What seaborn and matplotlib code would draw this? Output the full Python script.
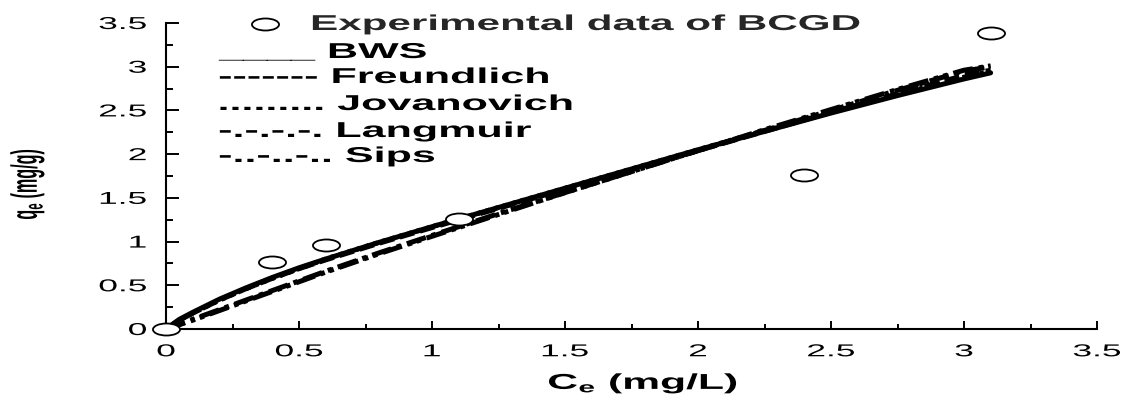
import matplotlib
matplotlib.use("Agg")
import matplotlib.pyplot as plt
import seaborn as sns
import numpy as np
from matplotlib.patheffects import AbstractPathEffect
from matplotlib.transforms import Affine2D
from matplotlib.path import Path
from matplotlib.font_manager import FontProperties

# ---------------- data ----------------
ce_exp = [0.0, 0.4, 0.6, 1.1, 2.4, 3.1]
qe_exp = [0.0, 0.77, 0.96, 1.26, 1.76, 3.39]

ce_fit = [0.0, 0.05, 0.1, 0.2, 0.3, 0.4, 0.5, 0.6, 0.8, 1.0, 1.25, 1.5, 1.75,
          2.0, 2.25, 2.5, 2.75, 3.0, 3.1]
q_bws = [0.0, 0.11, 0.19, 0.34, 0.47, 0.59, 0.70, 0.80, 0.99, 1.17, 1.39, 1.61,
         1.83, 2.05, 2.26, 2.47, 2.67, 2.86, 2.93]
q_freundlich = [0.0, 0.10, 0.18, 0.33, 0.46, 0.58, 0.69, 0.79, 0.98, 1.16, 1.38, 1.60,
                1.82, 2.04, 2.26, 2.48, 2.69, 2.90, 2.96]
q_jovanovich = [0.0, 0.10, 0.18, 0.33, 0.46, 0.58, 0.69, 0.80, 0.99, 1.17, 1.39, 1.61,
                1.83, 2.05, 2.27, 2.48, 2.68, 2.88, 2.95]
q_langmuir = [0.0, 0.05, 0.11, 0.22, 0.33, 0.44, 0.55, 0.66, 0.87, 1.07, 1.32, 1.56,
              1.80, 2.04, 2.27, 2.50, 2.73, 2.95, 3.00]
q_sips = [0.0, 0.05, 0.10, 0.21, 0.32, 0.43, 0.54, 0.65, 0.86, 1.06, 1.31, 1.56,
          1.80, 2.04, 2.28, 2.51, 2.74, 2.96, 3.01]

exp_label = "Experimental data of BCGD"
legend_lines = ["____ BWS", "------- Freundlich", "......... Jovanovich",
                "-.-.-.-. Langmuir", "-..-..-.. Sips"]
xtick_vals = [0, 0.5, 1, 1.5, 2, 2.5, 3, 3.5]
xtick_labels = ["0", "0.5", "1", "1.5", "2", "2.5", "3", "3.5"]
ytick_vals = [0, 0.5, 1, 1.5, 2, 2.5, 3, 3.5]
ytick_labels = ["0", "0.5", "1", "1.5", "2", "2.5", "3", "3.5"]
xlabel = "C$_e$ (mg/L)"
ylabel = "q$_e$ (mg/g)"


# ---------------- helper: horizontally stretched text rendering ----------------
class Stretch(AbstractPathEffect):
    def __init__(self, sx=1.0, sy=1.0, anchor="center"):
        super().__init__()
        self.sx, self.sy, self.anchor = sx, sy, anchor

    def draw_path(self, renderer, gc, tpath, affine, rgbFace=None):
        bb = tpath.get_extents(affine)
        if self.anchor == "left":
            ax0 = bb.x0
        elif self.anchor == "right":
            ax0 = bb.x1
        else:
            ax0 = 0.5 * (bb.x0 + bb.x1)
        ay0 = 0.5 * (bb.y0 + bb.y1)
        t = affine + Affine2D().translate(-ax0, -ay0).scale(self.sx, self.sy).translate(ax0, ay0)
        renderer.draw_path(gc, tpath, t, rgbFace)


sns.set_style("white")
plt.rcParams["font.family"] = ["Liberation Sans", "DejaVu Sans"]
plt.rcParams["mathtext.fontset"] = "custom"
plt.rcParams["mathtext.rm"] = "Liberation Sans:bold"
plt.rcParams["mathtext.it"] = "Liberation Sans:bold"
plt.rcParams["mathtext.bf"] = "Liberation Sans:bold"

W, H = 1148, 396
fig = plt.figure(figsize=(W / 100, H / 100), dpi=100)
fig.patch.set_facecolor("white")
ax = fig.add_axes([166 / W, (H - 329) / H, (1097 - 166) / W, (329 - 23) / H])
ax.set_facecolor("white")

lw = 3.6
series = [
    (q_bws, "-"),
    (q_freundlich, (0, (3.0, 1.2))),
    (q_jovanovich, (0, (0.8, 1.0))),
    (q_langmuir, (0, (4.0, 1.2, 0.9, 1.2))),
    (q_sips, (0, (4.0, 1.2, 0.9, 1.0, 0.9, 1.2))),
]
for yv, ls in series:
    sns.lineplot(x=ce_fit, y=yv, ax=ax, color="black", linewidth=lw,
                 linestyle=ls, zorder=3, legend=False)

# elliptical open marker (the reference circles look wider than tall)
circ = Path.unit_circle()
ell = Path(circ.vertices * np.array([2.25, 1.0]), circ.codes)
sns.scatterplot(x=ce_exp, y=qe_exp, ax=ax, marker=ell, s=380, color="white",
                edgecolor="black", linewidth=1.3, zorder=5, clip_on=False,
                label=exp_label)

ax.set_xlim(0, 3.5)
ax.set_ylim(0, 3.5)
for s in ["top", "right"]:
    ax.spines[s].set_visible(False)
for s in ["left", "bottom"]:
    ax.spines[s].set_color("black")
    ax.spines[s].set_linewidth(1.5)

ax.set_xticks(xtick_vals, labels=xtick_labels)
ax.set_yticks(ytick_vals, labels=ytick_labels)
ax.set_xticks(np.arange(0.25, 3.5, 0.5), minor=True)
ax.set_yticks(np.arange(0.25, 3.5, 0.5), minor=True)
ax.tick_params(axis="x", which="major", direction="in", length=5.8, width=1.4,
               color="black", pad=11.0, labelsize=12.4, labelcolor="black")
ax.tick_params(axis="x", which="minor", direction="in", length=3.6, width=1.4, color="black")
ax.tick_params(axis="y", which="major", direction="in", length=9.4, width=1.4,
               color="black", pad=14, labelsize=12.4, labelcolor="black")
ax.tick_params(axis="y", which="minor", direction="in", length=5.0, width=1.4, color="black")
ax.tick_params(left=True, bottom=True, which="both")

for t in ax.get_xticklabels():
    t.set_path_effects([Stretch(2.05, 1.0, "center")])
for t in ax.get_yticklabels():
    t.set_path_effects([Stretch(2.05, 1.0, "right")])

bold = dict(fontsize=15.5, fontweight="bold", color="black")
ax.set_xlabel(xlabel, **bold)
ax.xaxis.set_label_coords((643 - 166) / 931, (329 - 371) / 306)
ax.xaxis.label.set_path_effects([Stretch(1.98, 1.0, "center")])

ax.set_ylabel(ylabel, **bold)
ax.yaxis.set_label_coords((40 - 166) / 931, (329 - 184) / 306)
ax.yaxis.label.set_path_effects([Stretch(1.7, 0.75, "center")])

# legend entry for the experimental data
leg = ax.legend(loc="upper left", bbox_to_anchor=(249 / W, 1 - 14 / H),
                bbox_transform=fig.transFigure, frameon=False, borderpad=0,
                borderaxespad=0, handlelength=1.5, handletextpad=1.4,
                scatterpoints=1,
                prop=FontProperties(family="Liberation Sans", weight="bold", size=15.5))
for t in leg.get_texts():
    t.set_path_effects([Stretch(1.96, 1.0, "left")])

# text-drawn line keys, as in the reference
baselines = [58, 83, 110, 137, 162]
for txt, yb in zip(legend_lines, baselines):
    fig.text(219 / W, 1 - yb / H, txt, ha="left", va="baseline",
             path_effects=[Stretch(2.0, 1.0, "left")], **bold)

fig.savefig("out.png", dpi=100, facecolor="white")
